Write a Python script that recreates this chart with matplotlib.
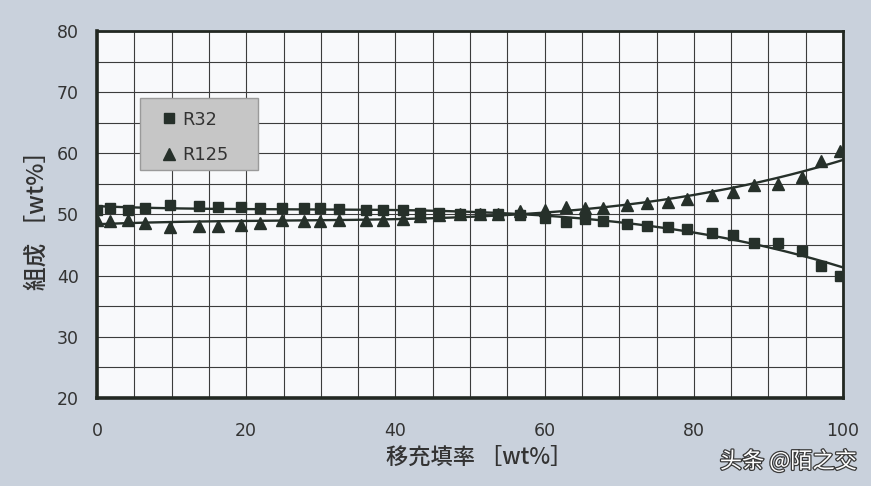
import numpy as np
import matplotlib
matplotlib.use("Agg")
import matplotlib.pyplot as plt
from matplotlib.ticker import MultipleLocator
from matplotlib.patches import Rectangle
import matplotlib.patheffects as pe

# ---------------- data ----------------
fill_rate = [0, 1.8, 4.1, 6.4, 9.8, 13.7, 16.2, 19.3, 21.8, 24.8, 27.7, 29.9, 32.5,
             36.0, 38.4, 41.0, 43.3, 45.8, 48.7, 51.3, 53.8, 56.7, 60.1, 62.9, 65.4,
             67.8, 71.0, 73.7, 76.6, 79.1, 82.4, 85.2, 88.1, 91.3, 94.5, 97.1, 99.6]
r32 = [50.8, 51.0, 50.8, 51.1, 51.55, 51.45, 51.3, 51.3, 51.1, 51.0, 51.0, 51.0, 50.9,
       50.75, 50.75, 50.75, 50.3, 50.2, 50.1, 50.1, 50.1, 49.9, 49.4, 48.8, 49.2,
       49.0, 48.5, 48.2, 48.0, 47.7, 46.9, 46.6, 45.4, 45.4, 44.1, 41.6, 40.0]
r125 = [49.1, 49.0, 49.1, 48.6, 48.0, 48.2, 48.2, 48.3, 48.6, 49.1, 49.0, 49.0, 49.1,
        49.1, 49.1, 49.3, 49.8, 49.9, 50.0, 50.0, 50.1, 50.5, 50.75, 51.3, 51.0,
        51.1, 51.6, 51.95, 52.1, 52.5, 53.2, 53.6, 54.8, 55.0, 56.2, 58.8, 60.3]
series_names = ["R32", "R125"]
x_ticks = [0, 20, 40, 60, 80, 100]
y_ticks = [20, 30, 40, 50, 60, 70, 80]
x_label = "移充填率 ［wt%］"
y_label = "組成 ［wt%］"
watermark = "头条 @陌之交"

# ---------------- style ----------------
bg = "#c9d1dc"
ink = "#26302a"
txt = "#333333"

fig = plt.figure(figsize=(8.71, 4.86), dpi=100, facecolor=bg)
ax = fig.add_axes([0.1114, 0.1811, 0.8565, 0.7551])
ax.set_facecolor("#f8f9fb")

ax.set_xlim(0, 100)
ax.set_ylim(20, 80)
ax.xaxis.set_minor_locator(MultipleLocator(5))
ax.yaxis.set_minor_locator(MultipleLocator(5))
ax.set_xticks(x_ticks)
ax.set_yticks(y_ticks)
ax.grid(True, which="both", color="#3c3c3c", lw=0.8, zorder=1)
ax.set_axisbelow(True)
ax.tick_params(which="both", length=0)
ax.tick_params(axis="y", pad=13, labelsize=12.5, labelcolor=txt)
ax.tick_params(axis="x", pad=17, labelsize=12.5, labelcolor=txt)
for lab in ax.get_xticklabels() + ax.get_yticklabels():
    lab.set_family("DejaVu Sans")
for side, sp in ax.spines.items():
    sp.set_color("#222822")
    sp.set_linewidth(2.6 if side in ("left", "bottom") else 2.0)

x = np.asarray(fill_rate)
xs = np.linspace(0, 100, 300)
for vals in (r32, r125):
    coef = np.polyfit(x, np.asarray(vals), 3)
    ax.plot(xs, np.polyval(coef, xs), color=ink, lw=1.7, zorder=3)

ax.plot(x, r32, ls="none", marker="s", ms=7.2, color=ink, zorder=4, label=series_names[0])
ax.plot(x, r125, ls="none", marker="^", ms=8.4, color=ink, zorder=4, label=series_names[1])

# legend box (gray panel)
ax.add_patch(Rectangle((0.0576, 0.621), 0.1582, 0.196, transform=ax.transAxes,
                       facecolor="#c6c6c6", edgecolor="#9a9a9a", lw=1.0, zorder=5))
leg = ax.legend(loc="upper left", bbox_to_anchor=(0.087, 0.783), frameon=False,
                borderpad=0, labelspacing=0.98, handlelength=0.8,
                handletextpad=0.35, borderaxespad=0,
                prop={"family": "DejaVu Sans", "size": 12.8})
leg.set_zorder(6)
for t in leg.get_texts():
    t.set_color(txt)

ax.set_xlabel(x_label, family=["Noto Sans CJK JP", "DejaVu Sans"], fontsize=16,
              color=txt, fontweight="medium")
ax.xaxis.set_label_coords(0.512, -0.163)
ax.xaxis.label.set_va("center")
ax.set_ylabel(y_label, family=["Noto Sans CJK JP", "DejaVu Sans"], fontsize=17,
              color=txt, fontweight="medium")
ax.yaxis.set_label_coords(-0.0805, 0.50)
ax.yaxis.label.set_va("center")

fig.text(0.984, 0.051, watermark, ha="right", va="center", fontsize=16,
         family=["Noto Sans CJK SC", "DejaVu Sans"], color="white",
         path_effects=[pe.withStroke(linewidth=1.8, foreground="#3a3a3a")])

fig.savefig("out.png", dpi=100, facecolor=bg)
